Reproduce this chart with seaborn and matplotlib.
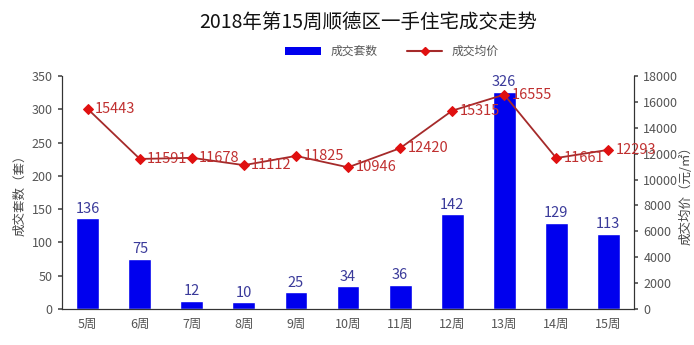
import matplotlib
matplotlib.use("Agg")
import matplotlib.pyplot as plt
import seaborn as sns
import pandas as pd
from matplotlib.lines import Line2D
from matplotlib.patches import Patch

weeks = ["5周", "6周", "7周", "8周", "9周", "10周", "11周", "12周", "13周", "14周", "15周"]
units = [136, 75, 12, 10, 25, 34, 36, 142, 326, 129, 113]
prices = [15443, 11591, 11678, 11112, 11825, 10946, 12420, 15315, 16555, 11661, 12293]

sns.set_theme(style="white")
plt.rcParams["font.family"] = ["Noto Sans CJK SC", "DejaVu Sans"]

df = pd.DataFrame({"week": weeks, "units": units, "price": prices})

fig = plt.figure(figsize=(6.94, 3.45), dpi=100)
ax = fig.add_axes([0.089, 0.104, 0.825, 0.676])

sns.barplot(data=df, x="week", y="units", color="#0000ee", saturation=1,
            width=0.44, ax=ax)
ax.set_ylim(0, 350)
ax.set_yticks(range(0, 351, 50))
ax.set_xlim(-0.5, len(weeks) - 0.5)
ax.set_xlabel("")
ax.set_ylabel("成交套数（套）", fontsize=9, color="#444444")

for i, v in enumerate(units):
    ax.text(i, v + 4, str(v), ha="center", va="bottom", fontsize=10.5,
            color="#3a3a9a")

ax2 = ax.twinx()
sns.lineplot(x=list(range(len(weeks))), y=prices, ax=ax2, color="#a52a2a",
             linewidth=1.3, marker="D", markersize=5, markerfacecolor="#e01010",
             markeredgecolor="#e01010")
ax2.set_ylim(0, 18000)
ax2.set_yticks(range(0, 18001, 2000))
ax2.set_ylabel("成交均价（元/㎡）", fontsize=9, color="#444444", labelpad=1)

for i, v in enumerate(prices):
    ax2.text(i + 0.14, v, str(v), ha="left", va="center", fontsize=10.5,
             color="#c03030")

for a in (ax, ax2):
    a.spines["top"].set_visible(False)
    for s in ("left", "right", "bottom"):
        a.spines[s].set_color("#333333")
        a.spines[s].set_linewidth(0.8)
    a.tick_params(axis="both", labelsize=9, colors="#555555", length=3,
                  direction="out")

ax.tick_params(axis="x", length=0, pad=6)
ax.tick_params(axis="y", left=True)
ax2.tick_params(axis="y", right=True)

fig.suptitle("2018年第15周顺德区一手住宅成交走势", x=0.53, y=0.965,
             fontsize=14, color="#111111")

handles = [Patch(facecolor="#0000ee", edgecolor="none", label="成交套数"),
           Line2D([0], [0], color="#a52a2a", marker="D", markersize=4,
                  markerfacecolor="#e01010", markeredgecolor="#e01010",
                  label="成交均价")]
fig.legend(handles=handles, loc="center", bbox_to_anchor=(0.565, 0.85),
           ncol=2, frameon=False, fontsize=8.5, handlelength=3,
           columnspacing=2.5, labelcolor="#555555")

fig.savefig("out.png", dpi=100)
